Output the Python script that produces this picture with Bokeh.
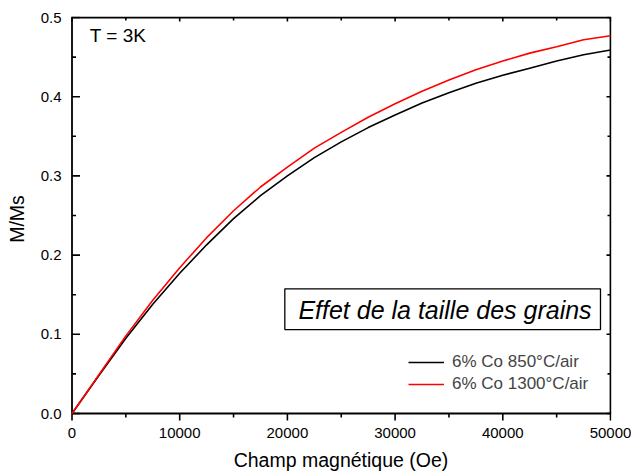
import numpy as np
from bokeh.plotting import figure
from bokeh.layouts import gridplot
from bokeh.models import (LinearAxis, FixedTicker, PrintfTickFormatter, Label,
                          BoxAnnotation, Legend, LegendItem, Range1d)
from bokeh.embed import file_html
from bokeh.resources import INLINE

# ---- data ----
field = [0, 2500, 5000, 7500, 10000, 12500, 15000, 17500, 20000, 22500, 25000,
         27500, 30000, 32500, 35000, 37500, 40000, 42500, 45000, 47500, 50000]
m_850 = [0.0, 0.048, 0.095, 0.138, 0.177, 0.213, 0.246, 0.275, 0.300, 0.323, 0.343,
         0.361, 0.377, 0.392, 0.405, 0.417, 0.427, 0.436, 0.445, 0.453, 0.459]
m_1300 = [0.0, 0.049, 0.098, 0.143, 0.184, 0.222, 0.256, 0.286, 0.311, 0.335, 0.355,
          0.374, 0.391, 0.407, 0.421, 0.434, 0.445, 0.455, 0.463, 0.472, 0.477]
labels = ["6% Co 850°C/air", "6% Co 1300°C/air"]
x_ticks = [0, 10000, 20000, 30000, 40000, 50000]
x_minor = [5000, 15000, 25000, 35000, 45000]
y_ticks = [0.0, 0.1, 0.2, 0.3, 0.4, 0.5]
y_minor = [0.05, 0.15, 0.25, 0.35, 0.45]

FONT = "Liberation Sans"
X0, X1 = x_ticks[0], x_ticks[-1]
Y0, Y1 = y_ticks[0], y_ticks[-1]

# pixel scale of the frame (used only for tick lengths / small paddings)
PX_X = (X1 - X0) / 538.5      # data units per pixel, x
PX_Y = (Y1 - Y0) / 396.0      # data units per pixel, y

p = figure(width=631, height=475, output_backend="svg", toolbar_location=None,
           x_axis_location=None, y_axis_location=None,
           x_range=Range1d(X0 - 1.5 * PX_X, X1 + 1.0 * PX_X),
           y_range=Range1d(Y0 - 8.0 * PX_Y, Y1 + 1.0 * PX_Y),
           min_border_left=70, min_border_right=20, min_border_top=16,
           min_border_bottom=54)
p.grid.visible = False
p.outline_line_color = None

xt = FixedTicker(ticks=x_ticks, minor_ticks=x_minor)
yt = FixedTicker(ticks=y_ticks, minor_ticks=y_minor)

def style(ax):
    ax.axis_line_color = None
    ax.major_tick_line_color = None
    ax.minor_tick_line_color = None
    ax.major_tick_in = 0
    ax.major_tick_out = 0
    ax.minor_tick_in = 0
    ax.minor_tick_out = 0
    ax.major_label_text_font = FONT
    ax.major_label_text_font_size = "15px"
    ax.major_label_text_color = "black"
    ax.axis_label_text_font = FONT
    ax.axis_label_text_font_size = "19.5px"
    ax.axis_label_text_font_style = "normal"
    ax.axis_label_text_color = "black"

xb = LinearAxis(ticker=xt, formatter=PrintfTickFormatter(format="%d"),
                axis_label="Champ magnétique (Oe)")
style(xb)
xb.major_label_standoff = 6
xb.axis_label_standoff = 8
p.add_layout(xb, "below")

yl = LinearAxis(ticker=yt, formatter=PrintfTickFormatter(format="%.1f"),
                axis_label="M/Ms")
style(yl)
yl.major_label_standoff = 9
yl.axis_label_standoff = 10
p.add_layout(yl, "left")

# ---- frame (axis lines) ----
p.line([X0, X0, X1, X1, X0], [Y0, Y1, Y1, Y0, Y0], line_color="black",
       line_width=1.8, line_join="miter")

# ---- ticks, drawn from the tick lists ----
def vticks(pos, ybase, length):
    xs, ys = [], []
    for t in pos:
        xs += [t, t, np.nan]
        ys += [ybase, ybase + length, np.nan]
    return np.array(xs, dtype=float), np.array(ys, dtype=float)

def hticks(pos, xbase, length):
    xs, ys = [], []
    for t in pos:
        xs += [xbase, xbase + length, np.nan]
        ys += [t, t, np.nan]
    return np.array(xs, dtype=float), np.array(ys, dtype=float)

tick_sets = [
    vticks(x_ticks, Y0, -7 * PX_Y), vticks(x_minor, Y0, -4 * PX_Y),   # bottom, outside
    vticks(x_ticks, Y1, -4 * PX_Y), vticks(x_minor, Y1, -3 * PX_Y),   # top, inside
    hticks(y_ticks, X0, 8 * PX_X), hticks(y_minor, X0, 4 * PX_X),     # left, inside
    hticks(y_ticks, X1, -4 * PX_X), hticks(y_minor, X1, -3 * PX_X),   # right, inside
]
for tx, ty in tick_sets:
    p.line(tx, ty, line_color="black", line_width=1.6)

# ---- data curves ----
r1 = p.line(field, m_850, line_color="black", line_width=1.6)
r2 = p.line(field, m_1300, line_color="#ff0000", line_width=1.6)

legend = Legend(items=[LegendItem(label=labels[0], renderers=[r1]),
                       LegendItem(label=labels[1], renderers=[r2])],
                location=(328, 17), border_line_alpha=0, background_fill_alpha=0,
                label_text_font=FONT, label_text_font_size="17px",
                glyph_width=36, glyph_height=20, label_height=20,
                label_standoff=8, spacing=2, padding=10, margin=0)
p.add_layout(legend, "center")

box = BoxAnnotation(left=19760, right=49070, bottom=0.106, top=0.1574,
                    fill_color="white", fill_alpha=1, line_color="black",
                    line_alpha=1, line_width=1.3)
p.add_layout(box)

p.add_layout(Label(x=21020, y=0.1305, text="Effet de la taille des grains",
                   text_font=FONT, text_font_size="25px", text_font_style="italic",
                   text_baseline="alphabetic", text_color="black"))

p.add_layout(Label(x=1650, y=0.4775, text="T = 3K", text_font=FONT,
                   text_font_size="19px", text_baseline="alphabetic",
                   text_color="black"))

layout = gridplot([[p]], toolbar_location=None)
open("out.html", "w").write(file_html(layout, INLINE))
